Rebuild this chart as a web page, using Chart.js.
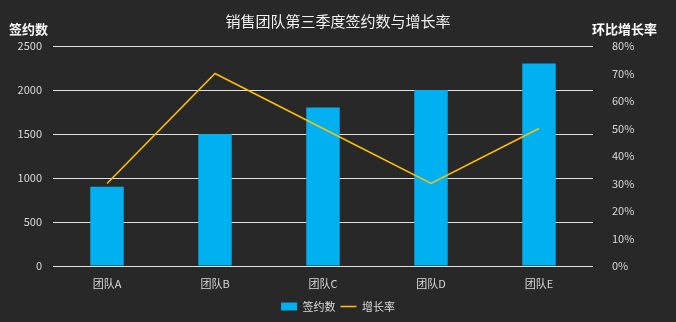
<!DOCTYPE html>
<html>
<head>
<meta charset="utf-8">
<script src="https://cdn.jsdelivr.net/npm/chart.js@4/dist/chart.umd.min.js"></script>
<style>
  html, body { margin: 0; padding: 0; background: #282828; }
  #wrap { width: 676px; height: 322px; }
</style>
</head>
<body>
<div id="wrap"><canvas id="salesChart"></canvas></div>
<script>
const teams = ["团队A", "团队B", "团队C", "团队D", "团队E"];
const signed = [900, 1500, 1800, 2000, 2300];
const growth = [0.30, 0.70, 0.50, 0.30, 0.50];

const FONT = "'Noto Sans CJK SC', 'Noto Sans', sans-serif";
Chart.defaults.color = "#d9d9d9";
Chart.defaults.font.family = FONT;

// axis titles sit horizontally above each y axis
const axisTitles = {
  id: "axisTitles",
  afterDraw(chart) {
    const ctx = chart.ctx;
    ctx.save();
    ctx.fillStyle = "#ffffff";
    ctx.font = "bold 13px " + FONT;
    ctx.textBaseline = "middle";
    ctx.textAlign = "left";
    ctx.fillText("签约数", 9, 29);
    ctx.textAlign = "right";
    ctx.fillText("环比增长率", 657, 29);
    ctx.restore();
  }
};

new Chart(document.getElementById("salesChart"), {
  data: {
    labels: teams,
    datasets: [
      {
        type: "line",
        label: "增长率",
        data: growth,
        yAxisID: "y1",
        borderColor: "#ffc000",
        backgroundColor: "#ffc000",
        borderWidth: 1.5,
        pointRadius: 0,
        tension: 0,
        pointStyle: "line",
        order: 1,
      },
      {
        type: "bar",
        label: "签约数",
        data: signed,
        yAxisID: "y",
        backgroundColor: "#00b0f0",
        barPercentage: 0.31,
        categoryPercentage: 1.0,
        pointStyle: "rect",
        order: 2,
      },
    ]
  },
  options: {
    responsive: true,
    maintainAspectRatio: false,
    animation: false,
    layout: {
      padding: { left: 0, right: 0, top: 0, bottom: 0 }
    },
    scales: {
      x: {
        grid: { display: false },
        border: { display: false },
        ticks: { font: { size: 11 }, padding: 3 },
        afterFit: (s) => { s.height = 30; },
      },
      y: {
        position: "left",
        min: 0,
        max: 2500,
        ticks: { stepSize: 500, font: { size: 11 }, padding: 11, callback: (v) => String(v) },
        grid: { color: "#e0e0e0", drawTicks: false, lineWidth: 1 },
        border: { display: false },
        afterFit: (s) => { s.width = 53; },
      },
      y1: {
        position: "right",
        min: 0,
        max: 0.8,
        ticks: {
          stepSize: 0.1,
          font: { size: 11 },
          padding: 11,
          callback: (v) => Math.round(v * 100) + "%",
        },
        grid: { display: false },
        border: { display: false },
        afterFit: (s) => { s.width = 83; },
      },
    },
    plugins: {
      title: {
        display: true,
        text: "销售团队第三季度签约数与增长率",
        color: "#f2f2f2",
        font: { size: 15, weight: "normal" },
        padding: { top: 12, bottom: 16 },
      },
      legend: {
        position: "bottom",
        reverse: true,
        labels: {
          usePointStyle: true,
          pointStyleWidth: 16,
          boxHeight: 8,
          padding: 5,
          font: { size: 11 },
          color: "#d9d9d9",
        }
      },
      tooltip: { enabled: false },
    },
  },
  plugins: [axisTitles],
});
</script>
</body>
</html>
